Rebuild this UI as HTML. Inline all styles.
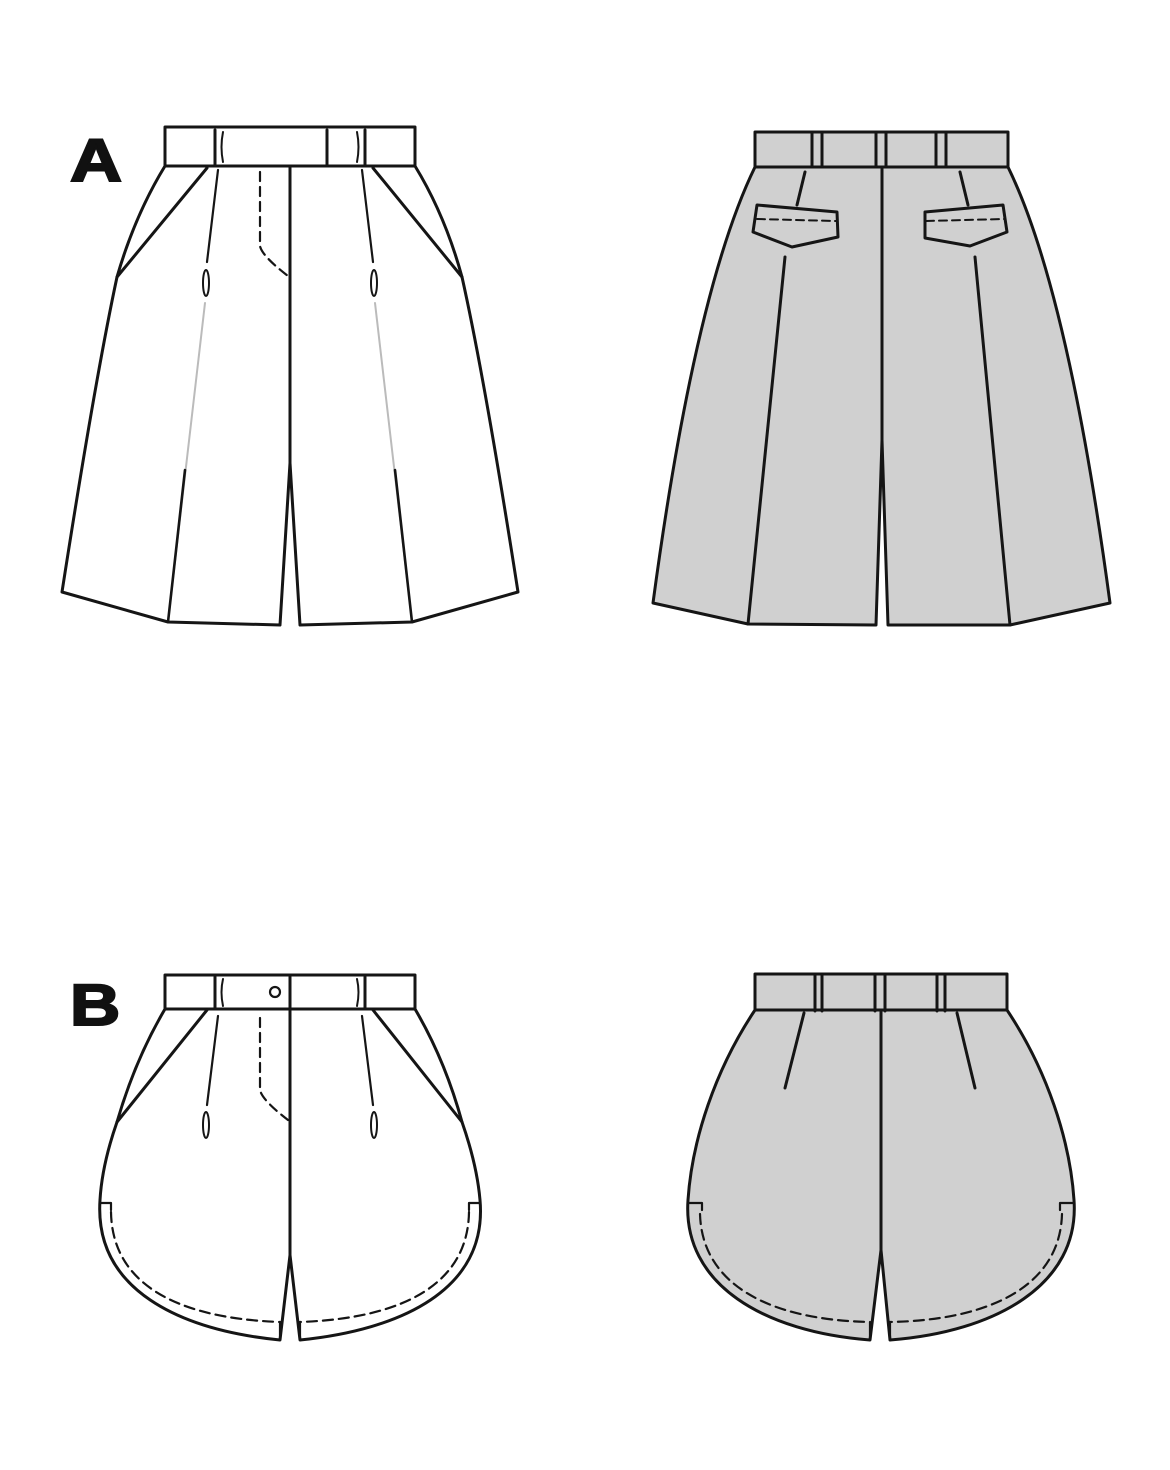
<!DOCTYPE html>
<html><head><meta charset="utf-8"><style>
html,body{margin:0;padding:0;background:#fff;}
svg{display:block;}
text{font-family:"Liberation Sans",sans-serif;font-weight:bold;}
</style></head><body>
<svg width="1170" height="1470" viewBox="0 0 1170 1470" xmlns="http://www.w3.org/2000/svg">
<g fill="none" stroke="#151515" stroke-width="3" stroke-linejoin="round" stroke-linecap="round">

<!-- ===== FRONT A ===== -->
<path fill="#fff" d="M165,166 Q135,215 117,277 Q95,380 62,592 L168,622 L280,625 L290,463 L300,625 L412,622 L518,592 Q485,380 462,277 Q445,215 415,166 Z"/>
<rect x="165" y="127" width="250" height="39" fill="#fff"/>
<line x1="215" y1="130" x2="215" y2="166"/>
<path d="M223,132 Q220,147 223,162" stroke-width="2"/>
<line x1="327" y1="130" x2="327" y2="166"/>
<path d="M357,132 Q360,147 357,162" stroke-width="2"/>
<line x1="365" y1="130" x2="365" y2="166"/>
<line x1="290" y1="166" x2="290" y2="463"/>
<path d="M207,168 L117,277"/>
<path d="M373,168 L462,277"/>
<path d="M218,170 L207,262" stroke-width="2.2"/>
<path d="M362,170 L373,262" stroke-width="2.2"/>
<ellipse cx="206" cy="283" rx="3" ry="13" stroke-width="2"/>
<ellipse cx="374" cy="283" rx="3" ry="13" stroke-width="2"/>
<path d="M260,172 L260,246 Q262,256 288,276" stroke-dasharray="9,6" stroke-width="2.2"/>
<path d="M168,622 L205,303" stroke="#bbb" stroke-width="2"/>
<path d="M412,622 L375,303" stroke="#bbb" stroke-width="2"/>
<path d="M168,622 L185,470" stroke-width="2.6"/>
<path d="M412,622 L395,470" stroke-width="2.6"/>

<!-- ===== BACK A ===== -->
<path fill="#d0d0d0" d="M755,167 Q695,290 653,603 L748,624 L876,625 L882,440 L888,625 L1010,625 L1110,603 Q1068,290 1008,167 Z"/>
<rect x="755" y="132" width="253" height="35" fill="#d0d0d0"/>
<line x1="812" y1="133" x2="812" y2="167"/>
<line x1="822" y1="133" x2="822" y2="167"/>
<line x1="876" y1="133" x2="876" y2="167"/>
<line x1="886" y1="133" x2="886" y2="167"/>
<line x1="936" y1="133" x2="936" y2="167"/>
<line x1="946" y1="133" x2="946" y2="167"/>
<line x1="882" y1="167" x2="882" y2="440"/>
<path d="M748,624 L785,257"/>
<path d="M1010,625 L975,257"/>
<path d="M805,172 L797,205"/>
<path d="M960,172 L968,205"/>
<path fill="#d0d0d0" d="M757,205 L837,212 L838,237 L792,247 L753,232 Z"/>
<path fill="#d0d0d0" d="M1003,205 L925,212 L925,238 L970,246 L1007,232 Z"/>
<path d="M757,219 L836,221" stroke-dasharray="8,5" stroke-width="2"/>
<path d="M926,221 L1005,219" stroke-dasharray="8,5" stroke-width="2"/>

<!-- ===== FRONT B ===== -->
<path fill="#fff" d="M165,1009 Q135,1060 117,1122 Q102,1165 100,1200 C94,1290 180,1330 280,1340 L290,1255 L300,1340 C400,1330 488,1290 480,1200 Q477,1165 462,1122 Q445,1060 415,1009 Z"/>
<rect x="165" y="975" width="250" height="34" fill="#fff"/>
<line x1="215" y1="977" x2="215" y2="1009"/>
<path d="M223,979 Q220,992 223,1006" stroke-width="2"/>
<path d="M357,979 Q360,992 357,1006" stroke-width="2"/>
<line x1="365" y1="977" x2="365" y2="1009"/>
<circle cx="275" cy="992" r="5" stroke-width="2.2"/>
<line x1="290" y1="977" x2="290" y2="1255"/>
<path d="M207,1010 L117,1122"/>
<path d="M373,1010 L462,1122"/>
<path d="M218,1016 L207,1105" stroke-width="2.2"/>
<path d="M362,1016 L373,1105" stroke-width="2.2"/>
<ellipse cx="206" cy="1125" rx="3" ry="13" stroke-width="2"/>
<ellipse cx="374" cy="1125" rx="3" ry="13" stroke-width="2"/>
<path d="M260,1018 L260,1090 Q262,1100 288,1120" stroke-dasharray="9,6" stroke-width="2.2"/>
<path d="M100,1203 L111,1203 L111,1210" stroke-width="2.2"/>
<path d="M111,1212 C112,1280 170,1318 280,1322" stroke-dasharray="10,6" stroke-width="2.2"/>
<path d="M480,1203 L469,1203 L469,1210" stroke-width="2.2"/>
<path d="M469,1212 C468,1280 410,1318 300,1322" stroke-dasharray="10,6" stroke-width="2.2"/>
<path d="M280,1322 L280,1340" stroke-width="2.2"/>
<path d="M300,1322 L300,1340" stroke-width="2.2"/>

<!-- ===== BACK B ===== -->
<path fill="#d0d0d0" d="M755,1010 C715,1070 692,1140 688,1200 C682,1285 765,1332 870,1340 L881,1250 L890,1340 C995,1332 1080,1285 1074,1200 C1070,1140 1047,1070 1007,1010 Z"/>
<rect x="755" y="974" width="252" height="36" fill="#d0d0d0"/>
<line x1="815" y1="975" x2="815" y2="1011"/>
<line x1="822" y1="975" x2="822" y2="1011"/>
<line x1="875" y1="975" x2="875" y2="1011"/>
<line x1="885" y1="975" x2="885" y2="1011"/>
<line x1="937" y1="975" x2="937" y2="1011"/>
<line x1="945" y1="975" x2="945" y2="1011"/>
<line x1="881" y1="1011" x2="881" y2="1250"/>
<path d="M804,1013 L785,1088"/>
<path d="M957,1013 L975,1088"/>
<path d="M688,1203 L702,1203 L702,1210" stroke-width="2.2"/>
<path d="M700,1214 C702,1285 770,1320 870,1322" stroke-dasharray="10,6" stroke-width="2.2"/>
<path d="M1074,1203 L1060,1203 L1060,1210" stroke-width="2.2"/>
<path d="M1062,1214 C1060,1285 992,1320 890,1322" stroke-dasharray="10,6" stroke-width="2.2"/>
<path d="M870,1322 L870,1340" stroke-width="2.2"/>
<path d="M890,1322 L890,1340" stroke-width="2.2"/>
</g>
<text transform="translate(70,181) scale(1.2,1)" font-size="60" fill="#111" stroke="#111" stroke-width="2">A</text>
<text transform="translate(70,1025) scale(1.2,1)" font-size="58" fill="#111" stroke="#111" stroke-width="2">B</text>
</svg>
</body></html>
